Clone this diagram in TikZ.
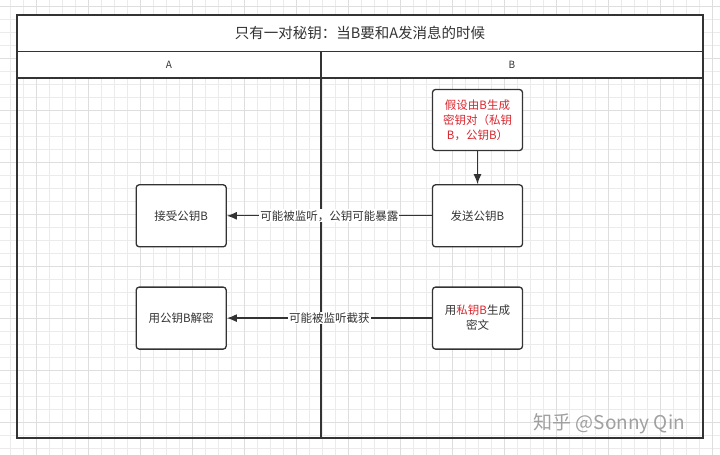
\documentclass[tikz,border=0pt]{standalone}
\usepackage{fontspec}
\setmainfont{Noto Sans CJK SC}
\usetikzlibrary{arrows.meta, positioning}
\definecolor{ink}{HTML}{333333}
\definecolor{keyred}{HTML}{D9262E}
\definecolor{gridline}{HTML}{EBEBEB}
\definecolor{gridmajor}{HTML}{DEDEDE}
\definecolor{markgray}{HTML}{A0A0A0}

\begin{document}
\begin{tikzpicture}[
  x=1pt, y=-1pt,
  box/.style={draw=ink, rectangle, rounded corners=3pt, minimum width=90pt, minimum height=62pt, align=center, line width=1.3pt, fill=white, text=ink, font=\fontsize{11.5}{15}\selectfont},
  lane/.style={draw=ink, line width=1.6pt},
  tag/.style={fill=white, text=ink, inner sep=1pt, font=\fontsize{11.5}{13}\selectfont},
  >={Latex[length=10pt, width=8pt]}
]
\useasboundingbox (0,0) rectangle (720,455);
\fill[white] (0,0) rectangle (720,455);

% background grid
\foreach \gx in {10,23,...,715} \draw[gridline, line width=0.7pt] (\gx,0) -- (\gx,455);
\foreach \gy in {6,19,...,452} \draw[gridline, line width=0.7pt] (0,\gy) -- (720,\gy);
\foreach \gx in {36,88,...,715} \draw[gridmajor, line width=0.9pt] (\gx,0) -- (\gx,455);
\foreach \gy in {6,58,...,452} \draw[gridmajor, line width=0.9pt] (0,\gy) -- (720,\gy);

% pool and lanes
\fill[white] (17,15) rectangle (703,78);
\draw[lane] (17,15) rectangle (703,438);
\draw[lane] (17,51.5) -- (703,51.5);
\draw[lane] (17,78) -- (703,78);
\draw[lane] (321,51.5) -- (321,438);
\node[text=ink, font=\fontsize{14.5}{16}\selectfont] (title) at (360,33) {只有一对秘钥：当B要和A发消息的时候};
\node[text=ink, font=\fontsize{10}{12}\selectfont] (laneA) at (169,64.5) {A};
\node[text=ink, font=\fontsize{10}{12}\selectfont] (laneB) at (512,64.5) {B};

% steps
\node[box, minimum height=61pt, text=keyred] (keygen) at (477.5,120) {假设由B生成\\密钥对（私钥\\B，公钥B）};
\node[box, below=33pt of keygen] (send) {发送公钥B};
\node[box, below=39pt of send] (encrypt) {用\textcolor{keyred}{私钥B}生成\\密文};
\node[box, left=205pt of send] (receive) {接受公钥B};
\node[box, left=205pt of encrypt] (decrypt) {用公钥B解密};

\draw[->, draw=ink, line width=1.3pt] (keygen) -- (send);
\draw[->, draw=ink, line width=1.3pt] (send) -- node[tag] {可能被监听，公钥可能暴露} (receive);
\draw[->, draw=ink, line width=1.3pt] (encrypt) -- node[tag] {可能被监听截获} (decrypt);

\node[text=markgray, anchor=west, font=\fontsize{19}{21}\selectfont] (mark) at (530,424) {知乎 @Sonny Qin};
\end{tikzpicture}
\end{document}
